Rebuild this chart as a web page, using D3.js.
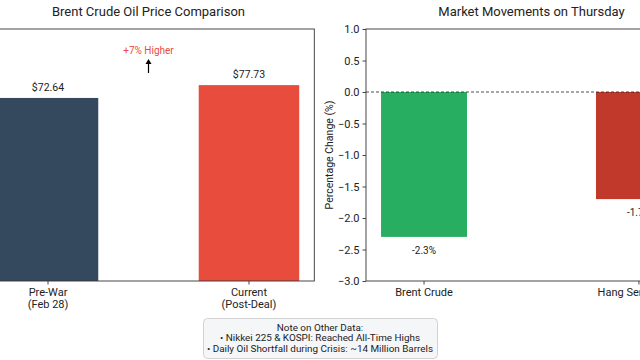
<!DOCTYPE html>
<html>
<head>
<meta charset="utf-8">
<script src="https://cdn.jsdelivr.net/npm/d3@7"></script>
<style>
  html, body { margin: 0; padding: 0; background: #fff; }
  svg { display: block; font-family: Roboto, "Noto Sans", sans-serif; }
</style>
</head>
<body>
<svg id="chart" width="640" height="360"></svg>
<script>
// ---- Data ----
const priceCategories = [["Pre-War", "(Feb 28)"], ["Current", "(Post-Deal)"]];
const priceValues = [72.64, 77.73];
const priceLabels = ["$72.64", "$77.73"];
const priceColors = ["#34495e", "#e74c3c"];

const marketCategories = ["Brent Crude", "Hang Seng Index"];
const marketValues = [-2.3, -1.7];
const marketLabels = ["-2.3%", "-1.7%"];
const marketColors = ["#27ae60", "#c0392b"];
const marketTicks = [1.0, 0.5, 0.0, -0.5, -1.0, -1.5, -2.0, -2.5, -3.0];

const noteLines = [
  "Note on Other Data:",
  "\u2022 Nikkei 225 & KOSPI: Reached All-Time Highs",
  "\u2022 Daily Oil Shortfall during Crisis: ~14 Million Barrels"
];

const svg = d3.select("#chart");
const plotTop = 29, plotBottom = 281;

// ---- Left panel ----
const xL = d3.scaleLinear().domain([-0.325, 1.325]).range([-17.3, 314.3]);
const yL = d3.scaleLinear().domain([0, 100]).range([plotBottom, plotTop]);
const gL = svg.append("g");
const bwL = 0.5;

gL.selectAll("rect.bar").data(priceValues).join("rect")
  .attr("x", (d, i) => xL(i - bwL / 2))
  .attr("width", (d, i) => xL(i + bwL / 2) - xL(i - bwL / 2))
  .attr("y", d => yL(d))
  .attr("height", d => yL(0) - yL(d))
  .attr("fill", (d, i) => priceColors[i]);

gL.selectAll("text.val").data(priceValues).join("text")
  .attr("x", (d, i) => xL(i))
  .attr("y", d => yL(d) - 7)
  .attr("text-anchor", "middle")
  .attr("font-size", 10.5)
  .attr("fill", "#222")
  .text((d, i) => priceLabels[i]);

// frame
gL.append("rect")
  .attr("x", xL(-0.325)).attr("y", plotTop)
  .attr("width", xL(1.325) - xL(-0.325)).attr("height", plotBottom - plotTop)
  .attr("fill", "none").attr("stroke", "#333").attr("stroke-width", 0.9);

// x axis ticks and labels
const xAxisL = gL.append("g").attr("transform", `translate(0,${plotBottom})`);
priceCategories.forEach((c, i) => {
  xAxisL.append("line").attr("x1", xL(i)).attr("x2", xL(i))
    .attr("y1", 0).attr("y2", 3.5).attr("stroke", "#333").attr("stroke-width", 0.9);
  const t = xAxisL.append("text").attr("text-anchor", "middle")
    .attr("font-size", 11).attr("fill", "#222");
  c.forEach((line, j) => {
    t.append("tspan").attr("x", xL(i)).attr("y", 15 + j * 11.5).text(line);
  });
});

// annotation
const midX = xL(0.5);
gL.append("text").attr("x", midX).attr("y", 54)
  .attr("text-anchor", "middle").attr("font-size", 10)
  .attr("fill", "#e74c3c").text("+7% Higher");
gL.append("line").attr("x1", midX).attr("x2", midX)
  .attr("y1", 73).attr("y2", 62).attr("stroke", "#000").attr("stroke-width", 1.2);
gL.append("path")
  .attr("d", `M${midX - 3},${64} L${midX},${59} L${midX + 3},${64} Z`)
  .attr("fill", "#000");

gL.append("text").attr("x", (xL(-0.325) + xL(1.325)) / 2).attr("y", 16)
  .attr("text-anchor", "middle").attr("font-size", 13).attr("fill", "#222")
  .text("Brent Crude Oil Price Comparison");

// ---- Right panel ----
const xR = d3.scaleLinear().domain([-0.27, 1.27]).range([366, 697]);
const yR = d3.scaleLinear().domain([-3, 1]).range([plotBottom, plotTop]);
const gR = svg.append("g");
const bwR = 0.4;

gR.selectAll("rect.bar").data(marketValues).join("rect")
  .attr("x", (d, i) => xR(i - bwR / 2))
  .attr("width", (d, i) => xR(i + bwR / 2) - xR(i - bwR / 2))
  .attr("y", d => yR(Math.max(0, d)))
  .attr("height", d => Math.abs(yR(d) - yR(0)))
  .attr("fill", (d, i) => marketColors[i]);

gR.selectAll("text.val").data(marketValues).join("text")
  .attr("x", (d, i) => xR(i))
  .attr("y", d => yR(d) + 17)
  .attr("text-anchor", "middle")
  .attr("font-size", 10)
  .attr("fill", "#222")
  .text((d, i) => marketLabels[i]);

// zero line
gR.append("line").attr("x1", xR(-0.27)).attr("x2", xR(1.27))
  .attr("y1", yR(0)).attr("y2", yR(0))
  .attr("stroke", "#222").attr("stroke-width", 0.8).attr("stroke-dasharray", "3,2");

// frame
gR.append("rect")
  .attr("x", xR(-0.27)).attr("y", plotTop)
  .attr("width", xR(1.27) - xR(-0.27)).attr("height", plotBottom - plotTop)
  .attr("fill", "none").attr("stroke", "#333").attr("stroke-width", 0.9);

// y axis
const yAxisR = d3.axisLeft(yR).tickValues(marketTicks)
  .tickFormat(d3.format(".1f")).tickSize(3.5).tickPadding(3);
const yAx = gR.append("g").attr("transform", `translate(${xR(-0.27)},0)`).call(yAxisR);
yAx.select(".domain").remove();
yAx.selectAll("line").attr("stroke", "#333").attr("stroke-width", 0.9);
yAx.selectAll("text").attr("font-size", 11).attr("fill", "#222")
  .attr("font-family", "Roboto, 'Noto Sans', sans-serif")
  .text(d => d3.format(".1f")(d).replace("-", "\u2212"));

// x axis
const xAxisR = gR.append("g").attr("transform", `translate(0,${plotBottom})`);
marketCategories.forEach((c, i) => {
  xAxisR.append("line").attr("x1", xR(i)).attr("x2", xR(i))
    .attr("y1", 0).attr("y2", 3.5).attr("stroke", "#333").attr("stroke-width", 0.9);
  xAxisR.append("text").attr("x", xR(i)).attr("y", 15)
    .attr("text-anchor", "middle").attr("font-size", 11).attr("fill", "#222").text(c);
});

gR.append("text")
  .attr("transform", `translate(333,${(plotTop + plotBottom) / 2}) rotate(-90)`)
  .attr("text-anchor", "middle").attr("font-size", 10.5).attr("fill", "#222")
  .text("Percentage Change (%)");

gR.append("text").attr("x", (xR(-0.27) + xR(1.27)) / 2).attr("y", 16)
  .attr("text-anchor", "middle").attr("font-size", 13).attr("fill", "#222")
  .text("Market Movements on Thursday");

// ---- Note box ----
const gN = svg.append("g");
gN.append("rect").attr("x", 203.5).attr("y", 318.5).attr("width", 234).attr("height", 40)
  .attr("rx", 4).attr("fill", "#f5f6f8").attr("stroke", "#c8c8c8").attr("stroke-width", 0.8);
noteLines.forEach((l, j) => {
  gN.append("text").attr("x", 320).attr("y", 331 + j * 10.3)
    .attr("text-anchor", "middle").attr("font-size", 9.9).attr("fill", "#222").text(l);
});
</script>
</body>
</html>
